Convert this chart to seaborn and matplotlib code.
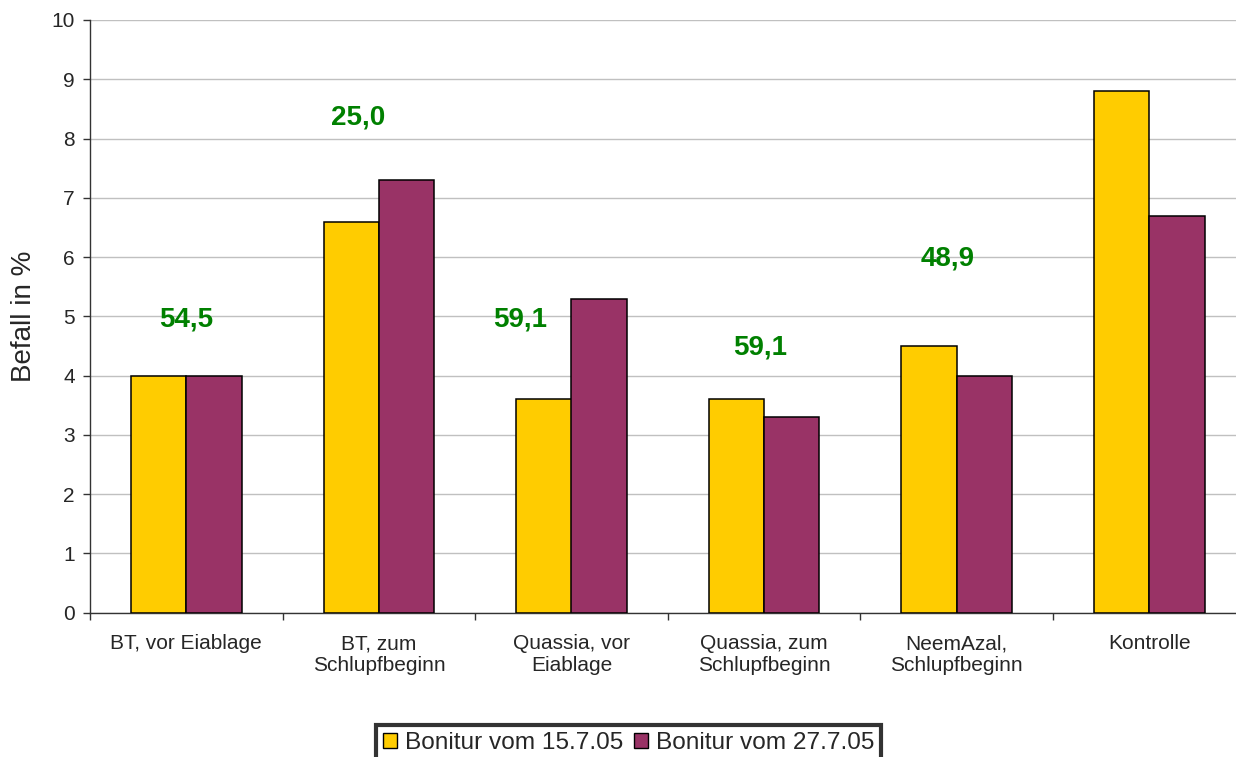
import matplotlib
matplotlib.use("Agg")
import matplotlib.pyplot as plt
import seaborn as sns
import pandas as pd
import numpy as np

categories = ["BT, vor Eiablage", "BT, zum\nSchlupfbeginn", "Quassia, vor\nEiablage",
              "Quassia, zum\nSchlupfbeginn", "NeemAzal,\nSchlupfbeginn", "Kontrolle"]
series_names = ["Bonitur vom 15.7.05", "Bonitur vom 27.7.05"]
values_1507 = [4.0, 6.6, 3.6, 3.6, 4.5, 8.8]
values_2707 = [4.0, 7.3, 5.3, 3.3, 4.0, 6.7]

# efficacy labels (text, x in category units, y in axis units)
eff_labels = ["54,5", "25,0", "59,1", "59,1", "48,9"]
eff_x = [0.0, 0.89, 1.735, 2.98, 3.955]
eff_y = [4.94, 8.35, 4.94, 4.47, 5.97]

colors = ["#FFCC00", "#993366"]

df = pd.DataFrame({
    "Variante": categories * 2,
    "Befall": values_1507 + values_2707,
    "Bonitur": [series_names[0]] * len(categories) + [series_names[1]] * len(categories),
})

sns.set_style("white")
plt.rcParams["font.family"] = ["Liberation Sans", "DejaVu Sans"]

fig = plt.figure(figsize=(12.36, 7.57), dpi=100)
ax = fig.add_axes([90 / 1236, (757 - 612.7) / 757, 1155.6 / 1236, 592.7 / 757])

sns.barplot(data=df, x="Variante", y="Befall", hue="Bonitur", palette=colors,
            width=0.575, gap=0, edgecolor="black", linewidth=1.1,
            saturation=1, ax=ax, legend=True, zorder=3)

ax.set_xlim(-0.5, len(categories) - 0.5)
ax.set_ylim(0, 10)
ax.set_yticks(np.arange(0, 11, 1))
ax.yaxis.grid(True, color="#C0C0C0", linewidth=1.0, zorder=0)
ax.xaxis.grid(False)
ax.set_axisbelow(True)

for s in ["top", "right"]:
    ax.spines[s].set_visible(False)
for s in ["left", "bottom"]:
    ax.spines[s].set_color("#333333")
    ax.spines[s].set_linewidth(1.0)

ax.tick_params(axis="y", which="major", length=5, width=1, color="#333333",
               labelsize=15, pad=6, left=True)
ax.tick_params(axis="x", which="major", length=0, labelsize=15, pad=15.5)
ax.set_xticks(np.arange(-0.5, len(categories) + 0.5, 1), minor=True)
ax.tick_params(axis="x", which="minor", length=5, width=1, color="#333333", bottom=True)

ax.set_xlabel("")
ax.set_ylabel("Befall in %", fontsize=20, va="center")
ax.yaxis.set_label_coords(-0.057, 0.5)

for t, x, y in zip(eff_labels, eff_x, eff_y):
    ax.text(x, y, t, color="#008000", fontsize=20, fontweight="bold",
            ha="center", va="center", zorder=5)

ax.get_legend().remove()
handles = [plt.Rectangle((0, 0), 1, 1, facecolor=c, edgecolor="black", linewidth=1.0)
           for c in colors]
leg = fig.legend(handles, series_names, loc="upper center",
                 bbox_to_anchor=(628.5 / 1236, 1 - 724.5 / 757), ncol=2,
                 fontsize=17.6, frameon=True, fancybox=False,
                 handlelength=0.57, handleheight=0.57, handletextpad=0.33,
                 columnspacing=0.42, borderpad=0.3, borderaxespad=0)
leg.get_frame().set_edgecolor("black")
leg.get_frame().set_linewidth(3.0)

fig.savefig("out.png", dpi=100)
